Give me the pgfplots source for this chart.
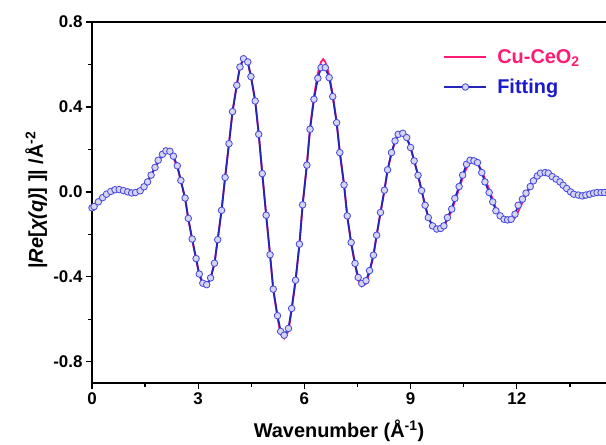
\documentclass[border=0pt]{standalone}
\usepackage{fontspec}
\setmainfont{Liberation Sans}
\usepackage{pgfplots}
\pgfplotsset{compat=1.18}
\definecolor{cured}{HTML}{FF1A75}
\definecolor{fitblue}{HTML}{2424B8}
\definecolor{mkedge}{HTML}{4A4AE0}
\definecolor{mkfill}{HTML}{D6D6F2}
\definecolor{fittext}{HTML}{1A1ACC}

\pgfplotstableread{
x y
0.00 -0.075
0.06 -0.069
0.18 -0.047
0.30 -0.027
0.41 -0.011
0.53 0.002
0.65 0.010
0.77 0.011
0.89 0.006
1.01 0.000
1.12 -0.005
1.23 -0.003
1.36 0.005
1.47 0.024
1.57 0.047
1.67 0.079
1.78 0.115
1.87 0.149
1.99 0.177
2.09 0.193
2.20 0.191
2.30 0.168
2.41 0.123
2.51 0.054
2.63 -0.029
2.72 -0.125
2.83 -0.222
2.94 -0.314
3.03 -0.387
3.13 -0.430
3.24 -0.437
3.35 -0.405
3.46 -0.336
3.55 -0.225
3.66 -0.087
3.76 0.068
3.87 0.227
3.97 0.378
4.09 0.502
4.18 0.588
4.28 0.627
4.40 0.612
4.49 0.543
4.61 0.428
4.71 0.271
4.81 0.086
4.92 -0.110
5.03 -0.296
5.12 -0.458
5.24 -0.583
5.33 -0.657
5.43 -0.675
5.55 -0.643
5.64 -0.549
5.75 -0.416
5.86 -0.246
5.95 -0.061
6.07 0.126
6.16 0.295
6.27 0.436
6.38 0.535
6.47 0.585
6.59 0.585
6.70 0.538
6.80 0.449
6.91 0.326
7.00 0.185
7.12 0.033
7.21 -0.113
7.32 -0.238
7.43 -0.337
7.52 -0.403
7.62 -0.431
7.74 -0.418
7.84 -0.371
7.95 -0.298
8.04 -0.204
8.15 -0.097
8.26 0.008
8.35 0.104
8.46 0.185
8.56 0.240
8.65 0.271
8.78 0.276
8.89 0.256
9.00 0.209
9.10 0.146
9.21 0.078
9.31 0.006
9.41 -0.063
9.50 -0.121
9.62 -0.160
9.74 -0.175
9.85 -0.172
9.94 -0.160
10.04 -0.121
10.16 -0.081
10.25 -0.031
10.37 0.025
10.47 0.079
10.58 0.130
10.68 0.149
10.79 0.146
10.89 0.138
11.01 0.091
11.10 0.047
11.22 -0.003
11.32 -0.047
11.41 -0.089
11.53 -0.113
11.64 -0.129
11.74 -0.132
11.84 -0.129
11.95 -0.105
12.04 -0.063
12.16 -0.034
12.26 -0.006
12.38 0.025
12.47 0.052
12.58 0.075
12.67 0.088
12.80 0.091
12.89 0.088
13.00 0.072
13.11 0.060
13.22 0.047
13.31 0.031
13.41 0.016
13.52 0.000
13.61 -0.011
13.74 -0.015
13.85 -0.019
13.95 -0.015
14.06 -0.011
14.17 -0.006
14.27 -0.003
14.38 -0.003
14.48 -0.003
14.60 -0.003
}\fitdata

\pgfplotstableread{
x y
0.00 -0.075
0.18 -0.047
0.41 -0.011
0.65 0.010
0.89 0.006
1.12 -0.005
1.36 0.005
1.57 0.047
1.78 0.112
1.99 0.172
2.09 0.184
2.20 0.182
2.30 0.160
2.41 0.118
2.51 0.050
2.63 -0.032
2.72 -0.128
2.83 -0.226
2.94 -0.318
3.03 -0.392
3.13 -0.436
3.24 -0.442
3.35 -0.408
3.46 -0.338
3.55 -0.226
3.66 -0.087
3.76 0.068
3.87 0.228
3.97 0.380
4.09 0.505
4.18 0.592
4.28 0.626
4.40 0.610
4.49 0.545
4.61 0.430
4.71 0.273
4.81 0.088
4.92 -0.110
5.03 -0.298
5.12 -0.462
5.24 -0.592
5.33 -0.670
5.43 -0.690
5.55 -0.655
5.64 -0.558
5.75 -0.420
5.86 -0.248
5.95 -0.060
6.07 0.130
6.16 0.302
6.27 0.450
6.38 0.560
6.47 0.612
6.53 0.625
6.59 0.612
6.70 0.552
6.80 0.458
6.91 0.332
7.00 0.190
7.12 0.035
7.21 -0.115
7.32 -0.243
7.43 -0.345
7.52 -0.415
7.62 -0.445
7.74 -0.432
7.84 -0.380
7.95 -0.302
8.04 -0.206
8.15 -0.098
8.26 0.006
8.35 0.100
8.46 0.180
8.56 0.235
8.65 0.264
8.78 0.270
8.89 0.252
9.00 0.208
9.10 0.148
9.21 0.080
9.31 0.008
9.41 -0.062
9.50 -0.120
9.62 -0.162
9.74 -0.178
9.85 -0.176
9.94 -0.164
10.04 -0.130
10.16 -0.090
10.25 -0.044
10.37 0.014
10.47 0.066
10.58 0.112
10.68 0.138
10.79 0.145
10.89 0.134
11.01 0.100
11.10 0.062
11.22 0.012
11.32 -0.036
11.41 -0.076
11.53 -0.110
11.64 -0.130
11.74 -0.138
11.84 -0.136
11.95 -0.122
12.04 -0.092
12.16 -0.050
12.26 -0.016
12.38 0.022
12.47 0.050
12.58 0.072
12.67 0.085
12.80 0.090
12.89 0.087
13.00 0.073
13.11 0.059
13.22 0.045
13.31 0.030
13.41 0.015
13.52 0.000
13.61 -0.010
13.74 -0.016
13.85 -0.018
13.95 -0.015
14.06 -0.011
14.17 -0.006
14.27 -0.003
14.48 -0.003
14.60 -0.003
}\reddata

\begin{document}
\begin{tikzpicture}
\begin{axis}[
  scale only axis,
  width=516.84bp, height=361bp,
  xmin=0, xmax=14.6, ymin=-0.9, ymax=0.8,
  axis line style={line width=1.5pt},
  every tick/.style={line width=1.3pt, black},
  tick align=outside,
  xtick pos=left, ytick pos=left,
  major tick length=6bp, minor tick length=3.5bp,
  xtick={0,3,6,9,12},
  minor xtick={1.5,4.5,7.5,10.5,13.5},
  ytick={-0.8,-0.4,0,0.4,0.8},
  minor ytick={-0.6,-0.2,0.2,0.6},
  /pgf/number format/assume math mode=true,
  ticklabel style={font=\fontsize{17}{17}\selectfont\bfseries},
  yticklabel style={/pgf/number format/.cd, fixed, fixed zerofill, precision=1},
  xlabel={Wavenumber (Å\textsuperscript{-1})},
  ylabel={|\textit{Re}[\textit{χ(q)}] ]| /Å\textsuperscript{-2}},
  label style={font=\fontsize{20}{20}\selectfont\bfseries},
  xlabel style={at={(axis description cs:0.478,-0.133)}, anchor=center},
  ylabel style={at={(axis description cs:-0.108,0.507)}, anchor=center},
  legend image code/.code={\draw[mark repeat=2,mark phase=2,#1] plot coordinates {(0bp,0bp)(21bp,0bp)(42bp,0bp)};},
  legend style={draw=none, fill=none, at={(axis description cs:0.674,0.935)}, anchor=north west,
    font=\fontsize{20}{20}\selectfont\bfseries, row sep=10bp,
    /tikz/every odd column/.append style={column sep=8bp}},
  legend cell align=left,
]
\addplot[cured, line width=1.8pt, no marks] table {\reddata};
\addlegendentry{\textcolor{cured}{Cu-CeO\textsubscript{2}}}
\addplot[fitblue, line width=1.8pt, mark=*, mark size=3.3pt,
  mark options={draw=mkedge, fill=mkfill, line width=0.85pt}] table {\fitdata};
\addlegendentry{\textcolor{fittext}{Fitting}}
\end{axis}
\pgfresetboundingbox
\path[use as bounding box] (-92bp,-62bp) rectangle (514bp,383bp);
\end{tikzpicture}
\end{document}
